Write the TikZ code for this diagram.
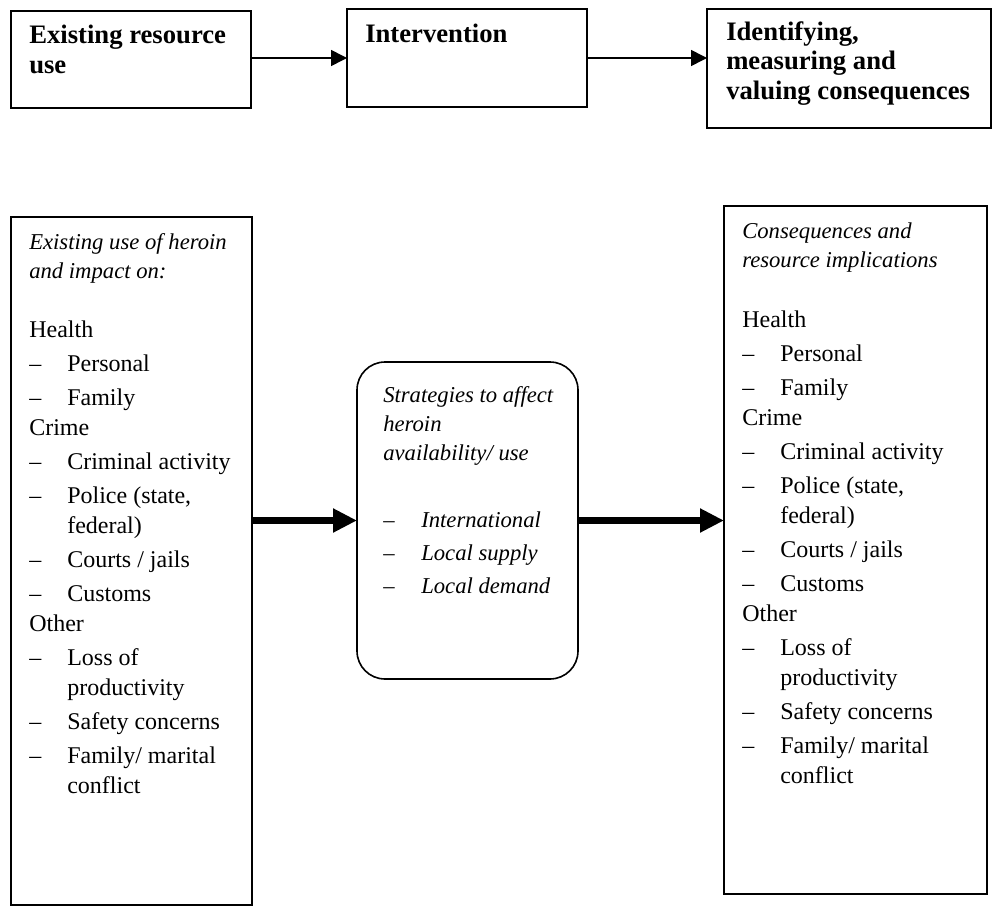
\documentclass[tikz,border=0pt]{standalone}
\usepackage{fontspec}
\setmainfont{Liberation Serif}
\usetikzlibrary{positioning, arrows.meta}

\newcommand{\dashitem}[1]{\makebox[28.5pt][l]{--}#1}
\newcommand{\dashmore}[1]{\makebox[28.5pt][l]{}#1}

\tikzset{
	box/.style={draw, line width=1.4pt, inner sep=0pt, outer sep=0pt},
	roundbox/.style={draw, line width=1.2pt, rounded corners=21pt, inner sep=0pt, outer sep=0pt},
	headtext/.style={anchor=base west, align=left, inner sep=0pt, font=\fontsize{20}{22}\selectfont\bfseries},
	itext/.style={anchor=base west, align=left, inner sep=0pt, font=\fontsize{17}{21.5}\selectfont\itshape},
	listtext/.style={anchor=base west, align=left, inner sep=0pt, font=\fontsize{18}{22.5}\selectfont},
	thinarrow/.style={-{Triangle[length=12pt,width=12pt]}, line width=1.2pt},
	thickarrow/.style={-{Triangle[length=18pt,width=17pt]}, line width=5pt}
}

\begin{document}
\begin{tikzpicture}[x=0.75pt, y=-0.75pt]
	\useasboundingbox (0,0) rectangle (993,910);
	% top row (text nodes sit on the baseline of their last line)
	\node[box, minimum width=180pt, minimum height=72.75pt] (resource) at (131, 59.5) {};
	\node[box, minimum width=180pt, minimum height=73.5pt] (intervention) at (467, 58) {};
	\node[box, minimum width=213pt, minimum height=89.25pt] (valuing) at (849, 68.5) {};
	\node[headtext] (resourcetext) at (29, 73) {Existing resource\\use};
	\node[headtext] (interventiontext) at (365, 42) {Intervention};
	\node[headtext] (valuingtext) at (726, 99) {Identifying,\\measuring and\\valuing consequences};
	\draw[thinarrow] (intervention.west -| resource.east) -- (intervention.west);
	\draw[thinarrow] (intervention.east) -- (intervention.east -| valuing.west);
	% bottom row
	\node[box, minimum width=180.75pt, minimum height=516pt] (heroinuse) at (131.5, 561) {};
	\node[roundbox, minimum width=165.75pt, minimum height=237.75pt] (strategies) at (467.5, 520.5) {};
	\node[box, minimum width=197.25pt, minimum height=516pt] (implications) at (855.5, 550) {};
	\node[itext] (heroinhead) at (29, 278) {Existing use of heroin\\and impact on:};
	\node[listtext] (heroinlist) at (29, 793) {Health\\[3pt]
		\dashitem{Personal}\\[3pt]
		\dashitem{Family}\\
		Crime\\[3pt]
		\dashitem{Criminal activity}\\[3pt]
		\dashitem{Police (state,}\\
		\dashmore{federal)}\\[3pt]
		\dashitem{Courts / jails}\\[3pt]
		\dashitem{Customs}\\
		Other\\[3pt]
		\dashitem{Loss of}\\
		\dashmore{productivity}\\[3pt]
		\dashitem{Safety concerns}\\[3pt]
		\dashitem{Family/ marital}\\
		\dashmore{conflict}};
	\node[itext] (strategyhead) at (383, 460) {Strategies to affect\\heroin\\availability/ use};
	\node[itext] (strategylist) at (383, 593) {\dashitem{International}\\[3pt]
		\dashitem{Local supply}\\[3pt]
		\dashitem{Local demand}};
	\node[itext] (implicationhead) at (742, 267) {Consequences and\\resource implications};
	\node[listtext] (implicationlist) at (742, 783) {Health\\[3pt]
		\dashitem{Personal}\\[3pt]
		\dashitem{Family}\\
		Crime\\[3pt]
		\dashitem{Criminal activity}\\[3pt]
		\dashitem{Police (state,}\\
		\dashmore{federal)}\\[3pt]
		\dashitem{Courts / jails}\\[3pt]
		\dashitem{Customs}\\
		Other\\[3pt]
		\dashitem{Loss of}\\
		\dashmore{productivity}\\[3pt]
		\dashitem{Safety concerns}\\[3pt]
		\dashitem{Family/ marital}\\
		\dashmore{conflict}};
	\draw[thickarrow] (strategies.west -| heroinuse.east) -- (strategies.west);
	\draw[thickarrow] (strategies.east) -- (strategies.east -| implications.west);
\end{tikzpicture}
\end{document}
